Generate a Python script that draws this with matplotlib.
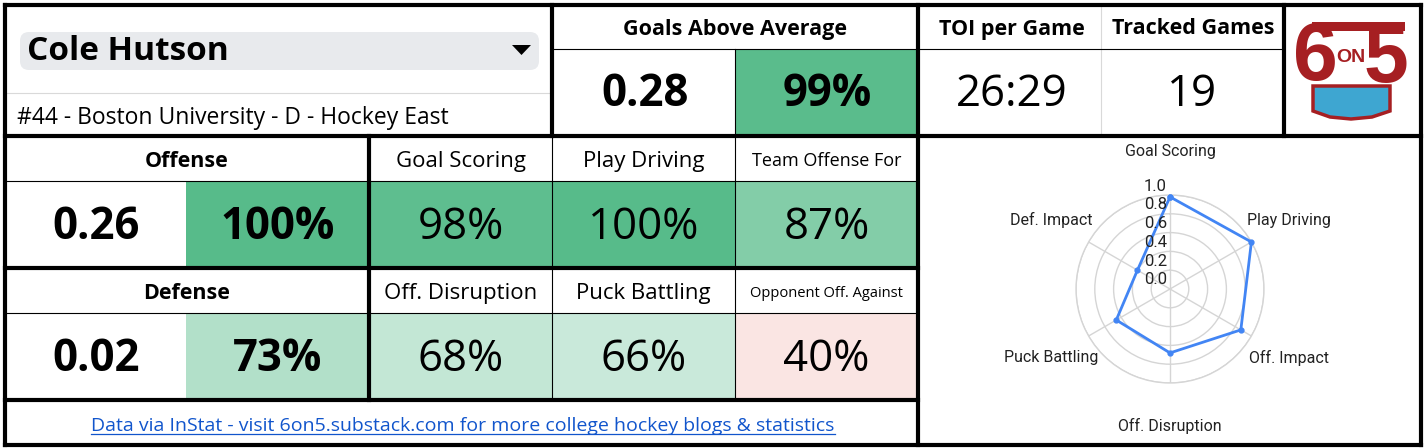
import numpy as np
import matplotlib
matplotlib.use('Agg')
import matplotlib.pyplot as plt
from matplotlib.patches import Rectangle, FancyBboxPatch, Polygon
from matplotlib.transforms import offset_copy

# player card data
player_name = 'Cole Hutson'
player_info = '#44 - Boston University - D - Hockey East'

gaa_value = '0.28'
gaa_pct = 99
toi_per_game = '26:29'
tracked_games = '19'

offense_value = '0.26'
offense_pct = 100
defense_value = '0.02'
defense_pct = 73

off_labels = ['Goal Scoring', 'Play Driving', 'Team Offense For']
off_pcts = [98, 100, 87]
def_labels = ['Off. Disruption', 'Puck Battling', 'Opponent Off. Against']
def_pcts = [68, 66, 40]

radar_labels = ['Goal Scoring', 'Play Driving', 'Off. Impact',
                'Off. Disruption', 'Puck Battling', 'Def. Impact']
radar_values = [0.98, 1.00, 0.87, 0.68, 0.66, 0.40]
radar_ticks = [0.0, 0.2, 0.4, 0.6, 0.8, 1.0]

footer_text = 'Data via InStat - visit 6on5.substack.com for more college hockey blogs & statistics'

MAIN = ['Open Sans', 'DejaVu Sans']
RADAR = ['Roboto', 'DejaVu Sans']

# sheets-like colour scale: red -> white (50) -> green
LOW = np.array([230, 124, 115]) / 255
MID = np.array([255, 255, 255]) / 255
HIGH = np.array([87, 187, 138]) / 255


def pct_color(p):
    if p >= 50:
        t = min((p - 50) / 50, 1)
        return MID + t * (HIGH - MID)
    t = min((50 - p) / 50, 1)
    return MID + t * (LOW - MID)


fig = plt.figure(figsize=(14.26, 4.48), dpi=100)
ax = fig.add_axes([0, 0, 1, 1])
ax.set_xlim(0, 1426)
ax.set_ylim(448, 0)
ax.axis('off')

THICK = 3.0
THIN = 0.8
BIG = 31.5
HEAD = 15.5


def cell(x0, x1, y0, y1, color):
    ax.add_patch(Rectangle((x0, y0), x1 - x0, y1 - y0, facecolor=color,
                           edgecolor='none', zorder=1))


def txt(x, y, s, size, weight='normal', ha='center', color='black', family=MAIN):
    return ax.text(x, y + 3, s, fontsize=size, fontweight=weight, ha=ha, va='center',
                   color=color, family=family, zorder=3)


def hline(y, x0, x1, lw=THIN, color='black'):
    ax.plot([x0, x1], [y, y], color=color, lw=lw, solid_capstyle='projecting', zorder=4)


def vline(x, y0, y1, lw=THIN, color='black'):
    ax.plot([x, x], [y0, y1], color=color, lw=lw, solid_capstyle='projecting', zorder=4)


# ---- top row ----
ax.add_patch(FancyBboxPatch((20, 32), 519, 38, boxstyle='round,pad=0,rounding_size=9',
                            facecolor='#e8eaed', edgecolor='none', zorder=1))
txt(27, 49, player_name, 24, weight='bold', ha='left')
ax.add_patch(Polygon([[512, 45], [531, 45], [521.5, 55]], closed=True,
                     facecolor='black', edgecolor='none', zorder=3))
hline(93, 5, 552, lw=0.8, color='#d9d9d9')
txt(17, 115, player_info, 16.5, ha='left')

txt(735, 26, 'Goals Above Average', HEAD, weight='bold')
cell(735, 918, 49, 136, pct_color(gaa_pct))
txt(645, 92, gaa_value, BIG, weight='bold')
txt(827, 92, f'{gaa_pct}%', BIG, weight='bold')

txt(1012, 26, 'TOI per Game', HEAD, weight='bold')
txt(1193, 26, 'Tracked Games', HEAD, weight='bold')
txt(1012, 92, toi_per_game, BIG)
txt(1192, 92, tracked_games, BIG)
vline(1101, 5, 136, lw=0.8, color='#d9d9d9')

# ---- offense / defense rows ----
col_x = [369, 552, 735, 918]
rows = [(136, 181, 268, 'Offense', offense_value, offense_pct, off_labels, off_pcts),
        (268, 313, 400, 'Defense', defense_value, defense_pct, def_labels, def_pcts)]
for y0, ym, y1, name, val, pct, labels, pcts in rows:
    cell(186, 369, ym, y1, pct_color(pct))
    txt(187, (y0 + ym) / 2, name, HEAD, weight='bold')
    txt(96, (ym + y1) / 2, val, BIG, weight='bold')
    txt(278, (ym + y1) / 2, f'{pct}%', BIG, weight='bold')
    for i, (lab, p) in enumerate(zip(labels, pcts)):
        xa, xb = col_x[i], col_x[i + 1]
        cell(xa, xb, ym, y1, pct_color(p))
        size = 16 if len(lab) < 16 else (13 if len(lab) < 18 else 10.5)
        txt((xa + xb) / 2, (y0 + ym) / 2, lab, size)
        txt((xa + xb) / 2, (ym + y1) / 2, f'{p}%', BIG)
    hline(ym, 5, 918)
    vline(552, y0, y1)
    vline(735, y0, y1)

# footer link
link = txt(463, 423, footer_text, 14, color='#1155cc')

# ---- grid lines ----
hline(49, 552, 1284)
vline(735, 49, 136)
for y in [5, 136, 445]:
    hline(y, 5, 1421, lw=THICK)
hline(268, 5, 918, lw=THICK)
hline(400, 5, 918, lw=THICK)
vline(5, 5, 445, lw=THICK)
vline(1421, 5, 445, lw=THICK)
vline(918, 5, 445, lw=THICK)
vline(552, 5, 136, lw=THICK)
vline(1284, 5, 136, lw=THICK)
vline(369, 136, 400, lw=THICK)

# ---- logo ----
RED = '#a61f22'
ax.add_patch(Polygon([[1313, 86], [1390, 86], [1390, 111], [1372, 117], [1351, 119],
                      [1330, 117], [1313, 111]], closed=True,
                     facecolor='#3ea6d1', edgecolor=RED, lw=2.5, zorder=2))
ax.add_patch(Rectangle((1312, 22), 93, 9, facecolor=RED, edgecolor='none', zorder=2))
ax.text(1315, 80, '6', fontsize=58, fontweight='bold', family=['Liberation Sans'],
        color=RED, ha='center', va='baseline', zorder=3)
ax.text(1386, 82, '5', fontsize=58, fontweight='bold', family=['Liberation Sans'],
        color=RED, ha='center', va='baseline', zorder=3)
ax.text(1351, 58, 'ON', fontsize=14, fontweight='bold', family=['Liberation Sans'],
        color=RED, ha='center', va='center', zorder=3)

# ---- radar ----
cx, cy, rad = 1170, 289, 94
rax = fig.add_axes([(cx - rad) / 1426, (448 - cy - rad) / 448, 2 * rad / 1426, 2 * rad / 448],
                   projection='polar')
rax.set_theta_offset(np.pi / 2)
rax.set_theta_direction(-1)
angles = np.linspace(0, 2 * np.pi, len(radar_labels), endpoint=False)
rax.set_ylim(0, 1)
rax.set_xticks(angles)
rax.set_xticklabels([])
rax.set_yticks(radar_ticks[1:])
rax.set_yticklabels([])
rax.grid(color='#d5d5d5', lw=1.0)
rax.spines['polar'].set_color('#d5d5d5')
rax.spines['polar'].set_linewidth(1.0)
rax.tick_params(length=0)
closed_a = np.append(angles, angles[0])
closed_v = np.append(radar_values, radar_values[0])
rax.plot(closed_a, closed_v, color='#4285f4', lw=2, marker='o', ms=3.5, clip_on=False, zorder=5)
for a, lab in zip(angles, radar_labels):
    rax.text(a, 1.46, lab, fontsize=11.5, family=RADAR, color='#222222',
             ha='center', va='center', clip_on=False)
tick_tr = offset_copy(rax.transData, fig=fig, x=-3, y=9, units='dots')
for t in radar_ticks:
    rax.text(0, t, f'{t:.1f}', fontsize=12, family=RADAR, color='#222222',
             ha='right', va='center', transform=tick_tr, clip_on=False, zorder=6)

# underline for the footer link
fig.canvas.draw()
bb = link.get_window_extent()
inv = ax.transData.inverted()
(lx0, ly0), (lx1, _) = inv.transform([[bb.x0, bb.y0], [bb.x1, bb.y0]])
ax.plot([lx0, lx1], [ly0 - 1, ly0 - 1], color='#1155cc', lw=0.9, zorder=3)

fig.savefig('out.png', dpi=100)
